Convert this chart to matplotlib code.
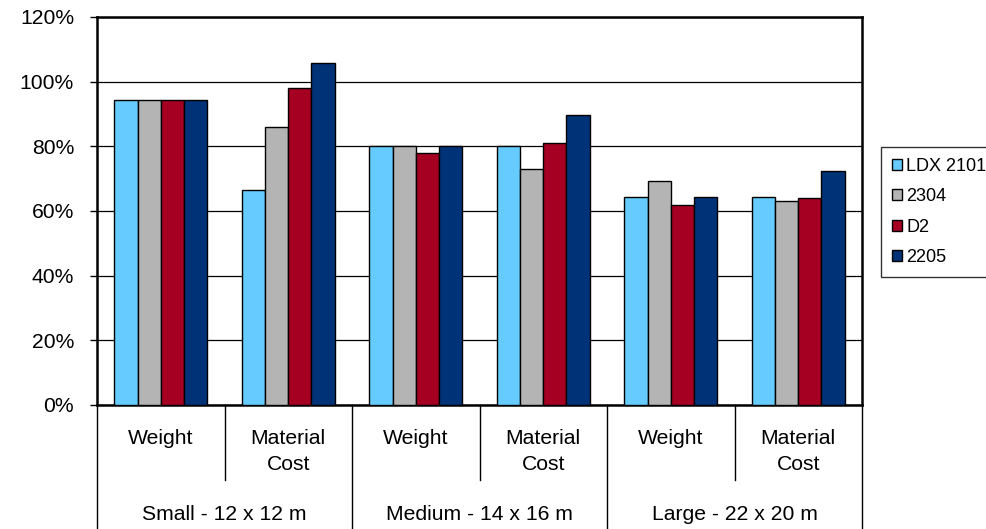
import matplotlib
matplotlib.use("Agg")
import matplotlib.pyplot as plt
import numpy as np
from matplotlib.ticker import PercentFormatter
from matplotlib.transforms import blended_transform_factory

plt.rcParams['font.family'] = ['Liberation Sans', 'DejaVu Sans']

# Data
measures = ["Weight", "Material\nCost", "Weight", "Material\nCost", "Weight", "Material\nCost"]
sizes = ["Small - 12 x 12 m", "Medium - 14 x 16 m", "Large - 22 x 20 m"]
series_names = ["LDX 2101", "2304", "D2", "2205"]
ldx2101 = [0.943, 0.665, 0.800, 0.800, 0.643, 0.643]
s2304 = [0.943, 0.861, 0.800, 0.730, 0.693, 0.631]
d2 = [0.943, 0.979, 0.778, 0.809, 0.618, 0.639]
s2205 = [0.943, 1.057, 0.800, 0.897, 0.643, 0.723]
colors = ["#66CCFF", "#B4B4B4", "#A50021", "#003278"]

W, H = 986, 529
fig = plt.figure(figsize=(W / 100, H / 100), dpi=100)
ax = fig.add_axes([97 / W, (H - 405) / H, 765 / W, 388 / H])

x = np.arange(len(measures))
bw = 0.182
all_series = [ldx2101, s2304, d2, s2205]
for i, (vals, name, c) in enumerate(zip(all_series, series_names, colors)):
    ax.bar(x + (i - 1.5) * bw, vals, width=bw, color=c, edgecolor="black",
           linewidth=1.0, label=name, zorder=3)

ax.set_xlim(-0.5, len(measures) - 0.5)
ax.set_ylim(0, 1.2)
ax.set_yticks(np.arange(0, 1.21, 0.2))
ax.yaxis.set_major_formatter(PercentFormatter(1.0, decimals=0))
ax.yaxis.grid(True, color="black", linewidth=0.9)
ax.set_axisbelow(True)
ax.tick_params(axis="y", length=5, width=1.0, pad=11.5, labelsize=15.2, direction="out")
ax.set_xticks([])
for s in ax.spines.values():
    s.set_linewidth(1.8)
    s.set_color("black")

# Two-level category axis below the plot
tr = blended_transform_factory(ax.transData, ax.transAxes)
trf = blended_transform_factory(ax.transData, fig.transFigure)
for b in np.arange(-0.5, len(measures), 1.0):
    inner = int(round(b + 0.5)) % 2 == 1
    y_end = -75 / 388 if inner else -0.34
    ax.plot([b, b], [0, y_end], color="black", linewidth=1.0, transform=tr,
            clip_on=False)

line_gap = 26
for xi, lab in zip(x, measures):
    for k, part in enumerate(lab.split("\n")):
        ax.text(xi, (H - 444 - k * line_gap) / H, part, transform=trf,
                ha="center", va="baseline", fontsize=15.2)

for gi, lab in enumerate(sizes):
    ax.text(2 * gi + 0.5, (H - 520) / H, lab, transform=trf,
            ha="center", va="baseline", fontsize=15.2)

leg = fig.legend(loc="upper left", bbox_to_anchor=(881 / W, (H - 147) / H),
                 bbox_transform=fig.transFigure, borderaxespad=0,
                 fontsize=13, handlelength=0.55, handleheight=0.55,
                 handletextpad=0.25, labelspacing=0.74, borderpad=0.6,
                 frameon=True, fancybox=False, edgecolor="black")
leg.get_frame().set_linewidth(1.0)

fig.savefig("out.png", dpi=100)
